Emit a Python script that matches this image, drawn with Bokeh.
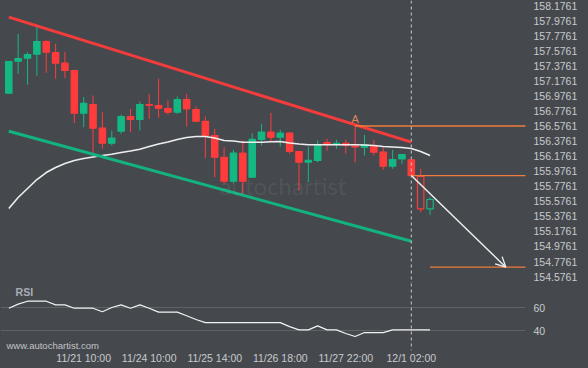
from bokeh.plotting import figure
from bokeh.layouts import column
from bokeh.models import (Range1d, FixedTicker, Span, Label, Arrow, OpenHead,
                          ColumnDataSource, PrintfTickFormatter)
from bokeh.core.properties import value
from bokeh.embed import file_html
from bokeh.resources import INLINE

# ---------------- data ----------------
idx = list(range(46))  # 4-hour candles
opens = [157.011, 157.436, 157.476, 157.529, 157.698, 157.552, 157.410, 157.313, 156.746, 156.861,
         156.547, 156.348, 156.507, 156.702, 156.662, 156.861, 156.848, 156.808, 156.759, 156.928,
         156.795, 156.636, 156.450, 156.161, 155.843, 156.215, 155.896, 156.397, 156.494, 156.427,
         156.480, 156.237, 156.095, 156.118, 156.357, 156.330, 156.347, 156.310, 156.294, 156.317,
         156.228, 156.042, 156.140, 156.127, 155.905, 155.476]
highs = [157.440, 157.800, 157.556, 157.901, 157.721, 157.668, 157.561, 157.322, 156.958, 156.981,
         156.759, 156.516, 156.725, 156.804, 156.901, 157.003, 157.203, 156.914, 156.968, 157.003,
         156.835, 156.702, 156.539, 156.294, 156.260, 156.383, 156.480, 156.605, 156.751, 156.525,
         156.494, 156.245, 156.304, 156.383, 156.406, 156.393, 156.393, 156.5761, 156.459, 156.393,
         156.294, 156.260, 156.197, 156.127, 156.008, 155.630]
lows = [157.000, 157.269, 157.123, 157.243, 157.282, 157.203, 157.211, 156.613, 156.560, 156.207,
        156.273, 156.317, 156.472, 156.494, 156.516, 156.671, 156.685, 156.725, 156.738, 156.569,
        156.626, 156.148, 155.896, 155.808, 155.816, 155.653, 155.890, 156.317, 156.361, 156.304,
        156.207, 155.719, 155.830, 156.095, 156.250, 156.273, 156.207, 156.095, 156.184, 156.184,
        155.994, 156.008, 156.074, 155.918, 155.431, 155.397]
closes = [157.432, 157.472, 157.525, 157.698, 157.556, 157.410, 157.313, 156.746, 156.875, 156.547,
          156.348, 156.414, 156.702, 156.662, 156.861, 156.852, 156.812, 156.759, 156.928, 156.804,
          156.640, 156.450, 156.161, 155.843, 156.215, 155.843, 156.397, 156.494, 156.427, 156.480,
          156.237, 156.095, 156.118, 156.317, 156.337, 156.347, 156.317, 156.297, 156.326, 156.228,
          156.042, 156.131, 156.197, 155.918, 155.476, 155.600]
ma = [155.480, 155.626, 155.746, 155.865, 155.958, 156.025, 156.078, 156.118, 156.144, 156.164,
      156.184, 156.201, 156.224, 156.244, 156.268, 156.303, 156.337, 156.363, 156.396, 156.423,
      156.436, 156.436, 156.416, 156.383, 156.377, 156.361, 156.361, 156.361, 156.366, 156.370,
      156.350, 156.337, 156.326, 156.326, 156.326, 156.326, 156.326, 156.326, 156.323, 156.317,
      156.303, 156.297, 156.290, 156.277, 156.237, 156.184]
rsi = [59.4, 62.9, 65.4, 65.4, 65.4, 62.3, 62.3, 59.4, 59.4, 59.4,
       56.3, 60.0, 62.3, 59.4, 62.3, 59.4, 56.0, 56.0, 56.0, 52.9,
       49.7, 47.0, 47.0, 47.0, 47.0, 47.0, 47.0, 47.0, 47.0, 47.0,
       43.6, 40.8, 40.8, 44.2, 40.8, 40.8, 37.7, 35.1, 38.5, 38.5,
       38.5, 40.8, 40.8, 40.8, 40.8, 40.8]
rsi_levels = [40, 60]

time_tick_idx = [8, 15, 22, 29, 36, 43]
time_tick_labels = ["11/21 10:00", "11/24 10:00", "11/25 14:00", "11/26 18:00", "11/27 22:00", "12/1 02:00"]
price_ticks = [158.1761, 157.9761, 157.7761, 157.5761, 157.3761, 157.1761, 156.9761, 156.7761,
               156.5761, 156.3761, 156.1761, 155.9761, 155.7761, 155.5761, 155.3761, 155.1761,
               154.9761, 154.7761, 154.5761]

# channel (resistance / support) end points: candle index, price
res_x = [0, 43]
res_y = [158.021, 156.361]
sup_x = [0, 43]
sup_y = [156.507, 155.046]

signal_index = 43
pattern_point_index = 37
pattern_level = 156.5761
breakout_level = 155.918
target_level = 154.701
target_start_index = 45
target_end_index = 53.1

# ---------------- style ----------------
BG = "#45494e"
UP = "#13b883"
DN = "#ff3b3b"
ORANGE = "#f07c3c"
TXT = "#c8c9cc"
FONT = "Liberation Sans"
BG_STYLE = {"background-color": BG}

xr = Range1d(-0.887, 55.2)

p1 = figure(width=588, height=283, x_range=xr, y_range=Range1d(154.4842, 158.2425),
            output_backend="svg", toolbar_location=None, x_axis_location=None,
            y_axis_location="right", min_border_left=0, min_border_right=63,
            min_border_top=0, min_border_bottom=0, styles=BG_STYLE)
p1.background_fill_color = BG
p1.border_fill_color = BG
p1.outline_line_color = None
p1.grid.visible = False

ax = p1.yaxis[0]
ax.ticker = FixedTicker(ticks=price_ticks)
ax.formatter = PrintfTickFormatter(format="%.4f")
ax.axis_line_color = None
ax.major_tick_line_color = None
ax.minor_tick_line_color = None
ax.major_tick_out = 0
ax.major_tick_in = 0
ax.major_label_text_color = TXT
ax.major_label_text_font = FONT
ax.major_label_text_font_size = "10.5px"
ax.major_label_standoff = 8

# watermark
p1.add_layout(Label(x=29.3, y=155.79, text="autochartist", text_font="Lato",
                    text_font_size="24px", text_color="#ffffff", text_alpha=0.07,
                    text_align="center", text_baseline="middle"))

colors = [UP if c >= o else DN for o, c in zip(opens, closes)]
fill_alpha = [0.0 if i > signal_index else 1.0 for i in idx]
src = ColumnDataSource(dict(
    x=idx, h=highs, l=lows,
    top=[max(o, c) for o, c in zip(opens, closes)],
    bot=[min(o, c) for o, c in zip(opens, closes)],
    color=colors, fa=fill_alpha))

p1.segment(x0="x", y0="h", x1="x", y1="top", line_color="color", line_width=1, source=src)
p1.segment(x0="x", y0="bot", x1="x", y1="l", line_color="color", line_width=1, source=src)
p1.vbar(x="x", width=0.68, top="top", bottom="bot", fill_color="color", fill_alpha="fa",
        line_color="color", line_width=1.2, source=src)

p1.line(idx, ma, line_color="#eeeeee", line_width=1.6)
p1.line(res_x, res_y, line_color="#f53c3c", line_width=3)
p1.line(sup_x, sup_y, line_color="#13b37f", line_width=3)

# levels
p1.ray(x=[pattern_point_index], y=[pattern_level], length=0, angle=0, line_color=ORANGE, line_width=1.3)
p1.ray(x=[signal_index], y=[breakout_level], length=0, angle=0, line_color=ORANGE, line_width=1.3)
p1.ray(x=[target_start_index], y=[target_level], length=0, angle=0, line_color=ORANGE, line_width=1.3)
p1.text(x=[pattern_point_index], y=[pattern_level], text=["A"], text_color="#e0865a",
        text_font=value(FONT), text_font_size="11px", text_align="center",
        text_baseline="bottom", y_offset=-1)

p1.add_layout(Arrow(end=OpenHead(size=10, line_color="#f2f2f2", line_width=1.3),
                    x_start=signal_index, y_start=breakout_level,
                    x_end=target_end_index, y_end=target_level,
                    line_color="#f2f2f2", line_width=1.4))
p1.add_layout(Span(location=signal_index, dimension="height", line_color="#c8c8c8",
                   line_dash="3 3", line_width=1))

# ---------------- RSI panel ----------------
p2 = figure(width=588, height=85, x_range=xr, y_range=Range1d(23.1, 80.6),
            output_backend="svg", toolbar_location=None, y_axis_location="right",
            min_border_left=0, min_border_right=63, min_border_top=0, min_border_bottom=18,
            styles=BG_STYLE)
p2.background_fill_color = BG
p2.border_fill_color = BG
p2.outline_line_color = None
p2.xgrid.visible = False
p2.ygrid.ticker = FixedTicker(ticks=rsi_levels)
p2.ygrid.grid_line_color = "#5e6267"
p2.ygrid.grid_line_width = 1

for a in (p2.yaxis[0], p2.xaxis[0]):
    a.axis_line_color = None
    a.major_tick_line_color = None
    a.minor_tick_line_color = None
    a.major_tick_out = 0
    a.major_tick_in = 0
    a.major_label_text_color = TXT
    a.major_label_text_font = FONT
    a.major_label_text_font_size = "10.5px"
p2.yaxis[0].ticker = FixedTicker(ticks=rsi_levels)
p2.yaxis[0].major_label_standoff = 8
p2.xaxis[0].ticker = FixedTicker(ticks=time_tick_idx)
p2.xaxis[0].major_label_overrides = {i: t for i, t in zip(time_tick_idx, time_tick_labels)}
p2.xaxis[0].major_label_standoff = 1

p2.line(idx, rsi, line_color="#f2f2f2", line_width=1.2)
p2.add_layout(Span(location=signal_index, dimension="height", line_color="#c8c8c8",
                   line_dash="3 3", line_width=1))
p2.add_layout(Label(x=0.72, y=72.9, text="RSI", text_font=FONT, text_font_style="bold",
                    text_font_size="10.5px", text_color="#a9adb3", text_baseline="middle"))
p2.add_layout(Label(x=-0.25, y=27.4, text="www.autochartist.com", text_font=FONT,
                    text_font_size="9.5px", text_color="#c0c2c6", text_baseline="middle"))

layout = column(p1, p2, spacing=0, styles=BG_STYLE)
open("out.html", "w").write(file_html(layout, INLINE))
